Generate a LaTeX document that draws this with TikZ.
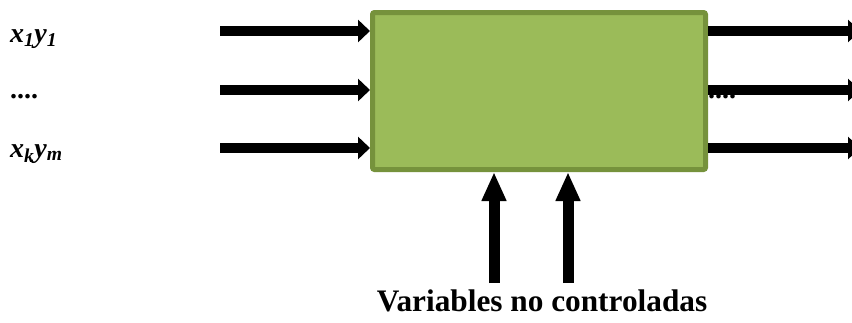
\documentclass[tikz,border=0pt]{standalone}
\usepackage{fontspec}
\setmainfont{Liberation Serif}
\usetikzlibrary{arrows.meta}
\definecolor{boxfill}{HTML}{9BBB59}
\definecolor{boxedge}{HTML}{76923C}
\tikzset{
  sidearrow/.style={line width=10pt, -{Triangle[length=12pt,width=22pt]}, black},
  uparrow/.style={line width=11pt, -{Triangle[length=29pt,width=23pt]}, black},
  lbl/.style={anchor=base west, inner sep=0pt, font=\fontsize{28}{30}\selectfont\bfseries\itshape},
  dots/.style={anchor=base west, inner sep=0pt, font=\fontsize{28}{30}\selectfont\bfseries},
}
\begin{document}
\begin{tikzpicture}[x=1pt,y=-1pt]
\useasboundingbox (0,0) rectangle (852,322);
% central block
\node[draw=boxedge, fill=boxfill, line width=5pt, rounded corners=2pt,
      minimum width=333pt, minimum height=157pt, inner sep=0pt]
      (box) at (539,91) {};
% input labels
\node[lbl] (l1) at (10,42) {x\textsubscript{1}y\textsubscript{1}};
\node[dots] (l2) at (10,98) {....};
\node[lbl] (l3) at (10,157) {x\textsubscript{k}y\textsubscript{m}};
% dots partly hidden behind the middle output arrow
\node[dots] (rd) at (708,98) {....};
% input arrows
\coordinate (i1) at (220,31);
\coordinate (i2) at (220,90);
\coordinate (i3) at (220,148);
\draw[sidearrow] (i1) -- (i1 -| box.west);
\draw[sidearrow] (i2) -- (i2 -| box.west);
\draw[sidearrow] (i3) -- (i3 -| box.west);
% output arrows, heads cut at the page edge
\coordinate (o1) at (860,31);
\coordinate (o2) at (860,90);
\coordinate (o3) at (860,148);
\draw[sidearrow] (o1 -| box.east) -- (o1);
\draw[sidearrow] (o2 -| box.east) -- (o2);
\draw[sidearrow] (o3 -| box.east) -- (o3);
% uncontrolled variables
\node[anchor=base, inner sep=0pt, font=\fontsize{31.3}{34}\selectfont\bfseries] (var) at (542,311) {Variables no controladas};
\coordinate (u1) at (494,283);
\coordinate (u2) at (568,283);
\draw[uparrow] (u1) -- (u1 |- box.south);
\draw[uparrow] (u2) -- (u2 |- box.south);
\end{tikzpicture}
\end{document}
